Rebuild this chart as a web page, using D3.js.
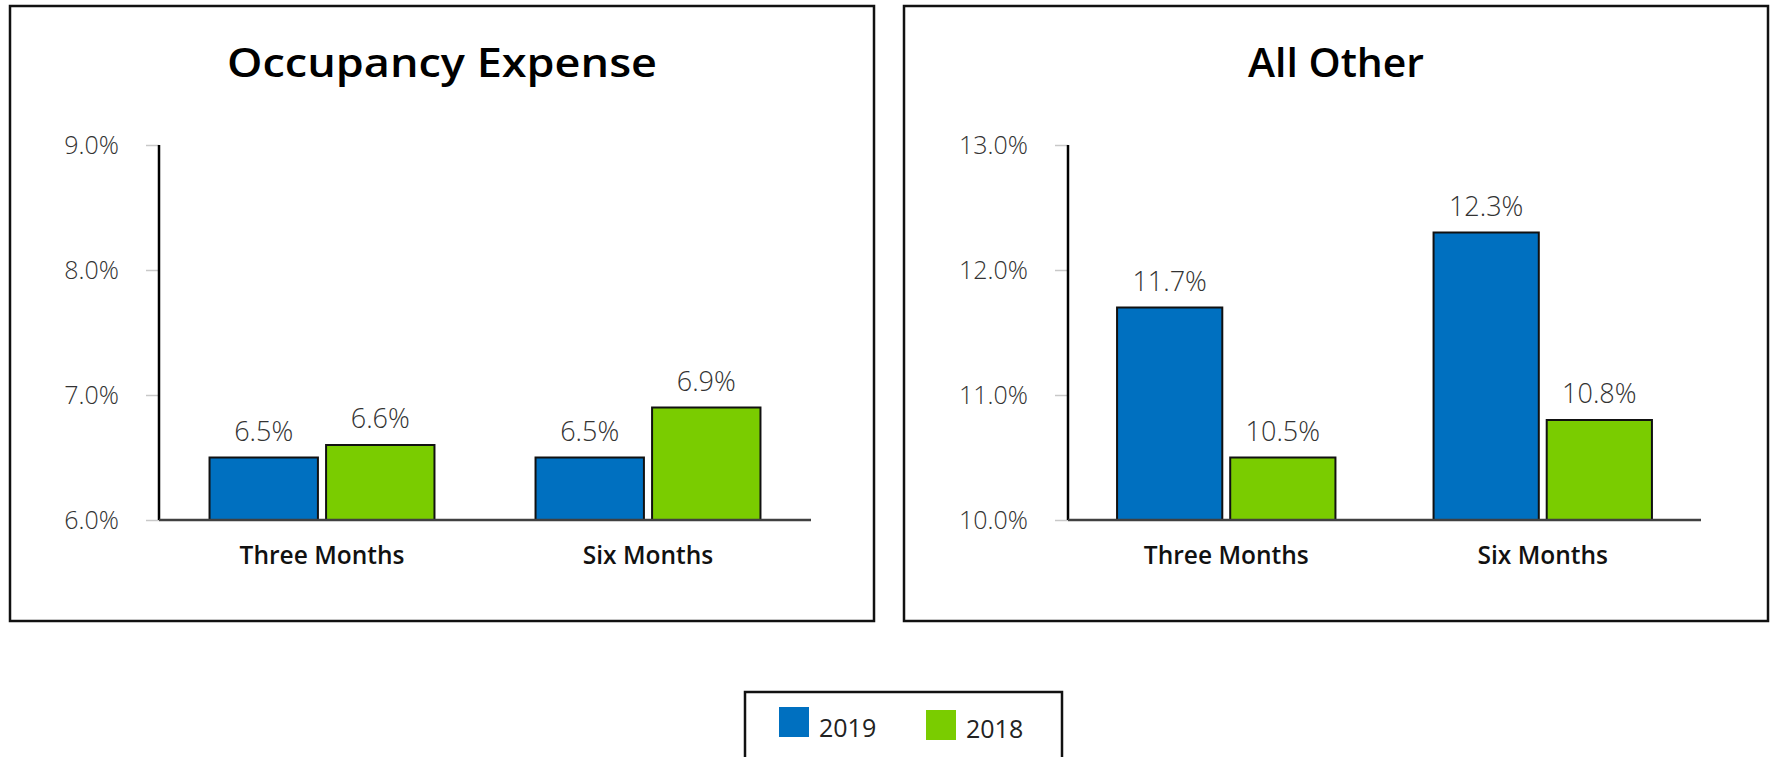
<!DOCTYPE html>
<html>
<head>
<meta charset="utf-8">
<script src="https://cdn.jsdelivr.net/npm/d3@7"></script>
<style>
  body { margin: 0; background: #fff; }
  svg { display: block; }
</style>
</head>
<body>
<svg id="chart" width="1771" height="757"></svg>
<script>
// data
const categories = ["Three Months", "Six Months"];
const seriesNames = ["2019", "2018"];
const seriesColors = ["#0070c0", "#7acc00"];

const occupancy2019 = [6.5, 6.5];
const occupancy2018 = [6.6, 6.9];
const occupancyTicks = [6, 7, 8, 9];

const allOther2019 = [11.7, 12.3];
const allOther2018 = [10.5, 10.8];
const allOtherTicks = [10, 11, 12, 13];

const svg = d3.select("#chart");
const fmt = d => d3.format(".1f")(d) + "%";

// one boxed panel with title, axis and grouped bars
function drawPanel(p) {
    const g = svg.append("g");

    g.append("rect")
        .attr("x", p.box[0]).attr("y", p.box[1])
        .attr("width", p.box[2] - p.box[0]).attr("height", p.box[3] - p.box[1])
        .attr("fill", "#fff").attr("stroke", "#111").attr("stroke-width", 2.5);

    g.append("text")
        .attr("x", (p.box[0] + p.box[2]) / 2).attr("y", 77)
        .attr("text-anchor", "middle")
        .attr("font-family", "Open Sans").attr("font-weight", 600)
        .attr("font-size", 39)
        .attr("textLength", p.titleWidth).attr("lengthAdjust", "spacingAndGlyphs")
        .text(p.title);

    const y = d3.scaleLinear()
        .domain([p.ticks[0], p.ticks[p.ticks.length - 1]])
        .range([520, 145]);

    const x0 = d3.scaleBand()
        .domain(categories)
        .range([p.left, p.right])
        .paddingInner(0.31).paddingOuter(0.155);

    const x1 = d3.scaleBand()
        .domain(seriesNames)
        .range([0, x0.bandwidth()])
        .paddingInner(0.07);

    // y axis
    const yAxis = g.append("g")
        .attr("transform", "translate(" + p.left + ",0)")
        .call(d3.axisLeft(y).tickValues(p.ticks).tickFormat(fmt).tickSize(13).tickPadding(27));
    yAxis.select(".domain").remove();
    yAxis.selectAll(".tick line").attr("stroke", "#c8c8c8").attr("stroke-width", 1.5);
    yAxis.selectAll(".tick text")
        .attr("font-family", "Open Sans").attr("font-weight", 300)
        .attr("font-size", 25).attr("fill", "#333");

    g.append("line")
        .attr("x1", p.left).attr("x2", p.left)
        .attr("y1", y.range()[1]).attr("y2", y.range()[0])
        .attr("stroke", "#000").attr("stroke-width", 2.5);

    // bars
    const rows = categories.map((c, i) => ({
        cat: c,
        vals: seriesNames.map((s, j) => ({ name: s, value: p.series[j][i], color: seriesColors[j] }))
    }));

    const groups = g.selectAll(".grp")
        .data(rows)
        .enter().append("g")
        .attr("class", "grp")
        .attr("transform", d => "translate(" + x0(d.cat) + ",0)");

    groups.selectAll("rect")
        .data(d => d.vals)
        .enter().append("rect")
        .attr("x", d => x1(d.name))
        .attr("y", d => y(d.value))
        .attr("width", x1.bandwidth())
        .attr("height", d => y.range()[0] - y(d.value))
        .attr("fill", d => d.color)
        .attr("stroke", "#111").attr("stroke-width", 2);

    groups.selectAll(".val")
        .data(d => d.vals)
        .enter().append("text")
        .attr("class", "val")
        .attr("x", d => x1(d.name) + x1.bandwidth() / 2)
        .attr("y", d => y(d.value) - 17)
        .attr("text-anchor", "middle")
        .attr("font-family", "Open Sans").attr("font-weight", 300)
        .attr("font-size", 27).attr("fill", "#333")
        .text(d => fmt(d.value));

    // x baseline
    g.append("line")
        .attr("x1", p.left).attr("x2", p.right)
        .attr("y1", y.range()[0]).attr("y2", y.range()[0])
        .attr("stroke", "#404040").attr("stroke-width", 2.5);

    g.selectAll(".cat")
        .data(categories)
        .enter().append("text")
        .attr("class", "cat")
        .attr("x", d => x0(d) + x0.bandwidth() / 2)
        .attr("y", 564)
        .attr("text-anchor", "middle")
        .attr("font-family", "Open Sans").attr("font-weight", 600)
        .attr("font-size", 24.5).attr("fill", "#111")
        .text(d => d);
}

drawPanel({
    title: "Occupancy Expense", titleWidth: 430,
    box: [10, 6, 874, 621],
    left: 159, right: 811,
    ticks: occupancyTicks,
    series: [occupancy2019, occupancy2018]
});

drawPanel({
    title: "All Other", titleWidth: 176,
    box: [904, 6, 1768, 621],
    left: 1068, right: 1701,
    ticks: allOtherTicks,
    series: [allOther2019, allOther2018]
});

// legend
const legend = svg.append("g");
legend.append("rect")
    .attr("x", 745).attr("y", 692)
    .attr("width", 317).attr("height", 80)
    .attr("fill", "#fff").attr("stroke", "#111").attr("stroke-width", 2.5);

const legX = [779, 926];
const legY = [707, 710];
seriesNames.forEach((s, i) => {
    legend.append("rect")
        .attr("x", legX[i]).attr("y", legY[i])
        .attr("width", 30).attr("height", 30)
        .attr("fill", seriesColors[i]);
    legend.append("text")
        .attr("x", legX[i] + 40).attr("y", 737 + (i ? 1 : 0))
        .attr("font-family", "Open Sans").attr("font-size", 25)
        .attr("fill", "#222")
        .text(s);
});
</script>
</body>
</html>
